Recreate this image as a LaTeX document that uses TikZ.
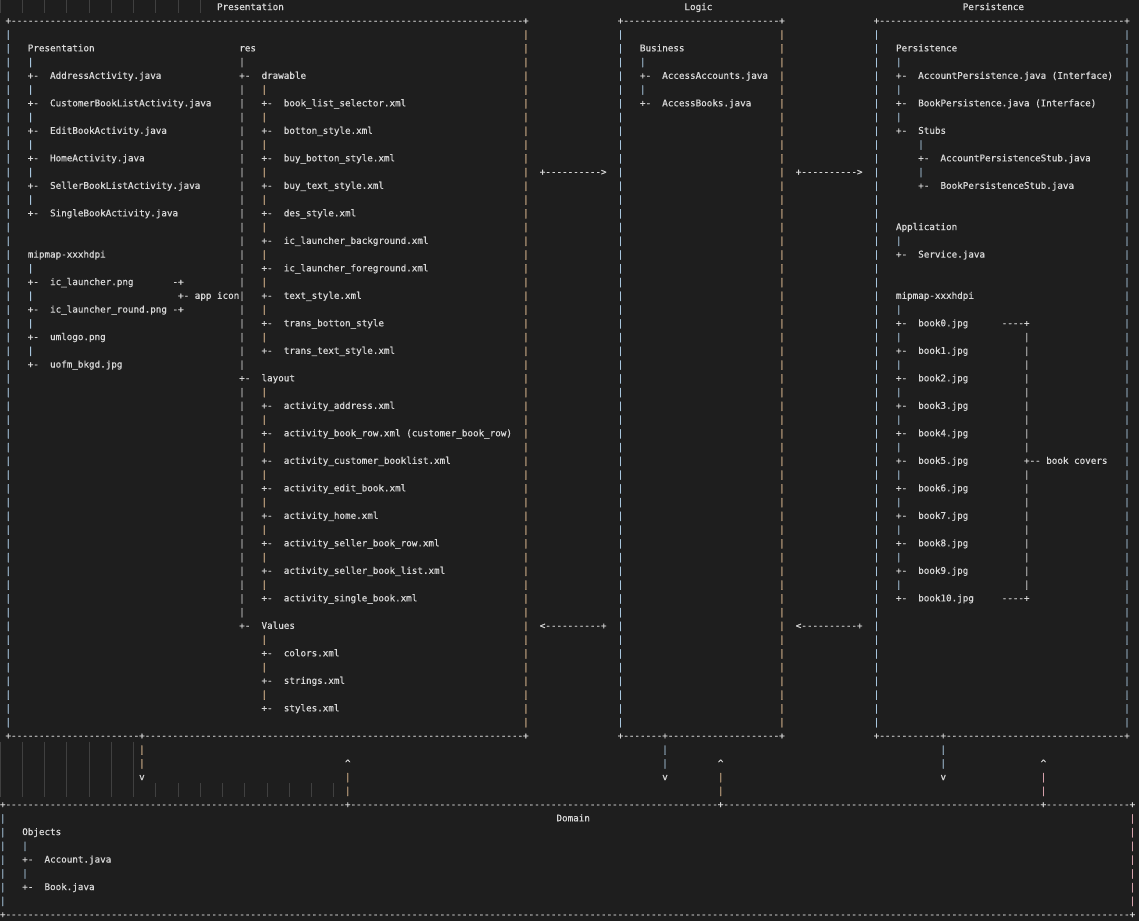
\documentclass[tikz,border=0pt]{standalone}
\usepackage{fontspec}
\setmonofont{DejaVu Sans Mono}[FakeBold=0.6]

\definecolor{bgc}{HTML}{1E1E1E}
\definecolor{fgc}{HTML}{D8D8D8}
\definecolor{guidec}{HTML}{404040}
\definecolor{barblue}{HTML}{A8C6DE}
\definecolor{barorange}{HTML}{D6B48C}
\definecolor{barpink}{HTML}{D4A0AA}
\definecolor{bargray}{HTML}{C8C8C8}

\newcommand\dashrun[1]{\foreach\k in {1,...,#1}{-}}

\tikzset{
  txt/.style={anchor=base west, inner sep=0pt, outer sep=0pt, text=fgc,
    font=\ttfamily\fontsize{9.2434pt}{13.75pt}\selectfont},
  vbar/.style={txt, text=#1},
  vbar/.default=bargray,
  guide/.style={draw=guidec, line width=0.9pt},
}

\begin{document}
\begin{tikzpicture}[x=5.565pt, y=-13.75pt, shift={(0,0.7309)}]
  \useasboundingbox (0,-0.7309) rectangle (204.67,66.25);
  \fill[bgc] (0,-0.7309) rectangle (204.67,66.25);

  % indent guides
  \foreach \c in {0,4,...,36} \draw[guide] (\c,-0.7945) -- (\c,0.2055);
  \foreach \c in {0,4,...,24} \draw[guide] (\c,53.2055) -- (\c,57.2055);
  \foreach \c in {28,32,...,60} \draw[guide] (\c,56.2055) -- (\c,57.2055);

  % layer titles
  \node[txt] (headPres) at (39,0) {Presentation};
  \node[txt] (headLogic) at (123,0) {Logic};
  \node[txt] (headPers) at (173,0) {Persistence};

  % layer frames
  \node[txt] (presTop) at (1,1) {+\dashrun{92}+};
  \node[txt] (presBot) at (1,53) {+\dashrun{23}+\dashrun{68}+};
  \node[txt] (logicTop) at (111,1) {+\dashrun{28}+};
  \node[txt] (logicBot) at (111,53) {+\dashrun{7}+\dashrun{20}+};
  \node[txt] (persTop) at (157,1) {+\dashrun{44}+};
  \node[txt] (persBot) at (157,53) {+\dashrun{11}+\dashrun{32}+};
  \foreach \r in {2,...,52} {
    \node[vbar=barblue] (presL\r) at (1,\r) {|};
    \node[vbar=barorange] (presR\r) at (94,\r) {|};
    \node[vbar=barblue] (logicL\r) at (111,\r) {|};
    \node[vbar=barorange] (logicR\r) at (140,\r) {|};
    \node[vbar=barblue] (persL\r) at (157,\r) {|};
    \node[vbar=barblue] (persR\r) at (202,\r) {|};
  }
  \node[txt] (domTop) at (0,58) {+\dashrun{61}+\dashrun{66}+\dashrun{57}+\dashrun{15}+};
  \node[txt] (domBot) at (0,66) {+\dashrun{202}+};
  \foreach \r in {59,...,65} {
    \node[vbar=barblue] (domL\r) at (0,\r) {|};
    \node[vbar=barpink] (domR\r) at (203,\r) {|};
  }
  \node[txt] (headDom) at (100,59) {Domain};

  % calls between layers
  \node[txt] (presToLogic) at (97,12) {+\dashrun{10}>};
  \node[txt] (logicToPers) at (143,12) {+\dashrun{10}>};
  \node[txt] (logicToPres) at (97,45) {<\dashrun{10}+};
  \node[txt] (persToLogic) at (143,45) {<\dashrun{10}+};
  \foreach \d/\u/\dc/\uc in {25/62/barorange/barorange, 119/129/barblue/barorange, 169/187/barblue/barpink} {
    \node[vbar=\dc] (dn\d-a) at (\d,54) {|};
    \node[vbar=\dc] (dn\d-b) at (\d,55) {|};
    \node[txt] (dn\d-v) at (\d,56) {v};
    \node[txt] (up\u-a) at (\u,55) {\textasciicircum};
    \node[vbar=\uc] (up\u-b) at (\u,56) {|};
    \node[vbar=\uc] (up\u-c) at (\u,57) {|};
  }

  % presentation: activities
  \node[txt] (presPkg) at (5,3) {Presentation};
  \foreach \r in {4,6,...,14} \node[vbar=barblue] (presV\r) at (5,\r) {|};
  \foreach \r/\f in {5/AddressActivity.java, 7/CustomerBookListActivity.java,
      9/EditBookActivity.java, 11/HomeActivity.java,
      13/SellerBookListActivity.java, 15/SingleBookActivity.java}
    \node[txt] (act\r) at (5,\r) {+-\ \ \f};

  % presentation: mipmap
  \node[txt] (mipPres) at (5,18) {mipmap-xxxhdpi};
  \foreach \r in {19,21,23,25} \node[vbar=barblue] (mipV\r) at (5,\r) {|};
  \foreach \r/\f in {20/ic\_launcher.png, 22/ic\_launcher\_round.png,
      24/umlogo.png, 26/uofm\_bkgd.jpg}
    \node[txt] (img\r) at (5,\r) {+-\ \ \f};
  \node[txt] (iconTop) at (31,20) {-+};
  \node[txt] (iconBot) at (31,22) {-+};
  \node[txt] (iconLbl) at (32,21) {+- app icon};

  % presentation: res
  \node[txt] (resDir) at (43,3) {res};
  \node[vbar] (resV4) at (43,4) {|};
  \foreach \r in {6,...,26} \node[vbar] (resV\r) at (43,\r) {|};
  \foreach \r in {28,...,44} \node[vbar] (resV\r) at (43,\r) {|};
  \foreach \r/\f in {5/drawable, 27/layout, 45/Values}
    \node[txt] (resSub\r) at (43,\r) {+-\ \ \f};
  \foreach \r in {6,8,...,24} \node[vbar=barorange] (drwV\r) at (47,\r) {|};
  \foreach \r in {28,30,...,42} \node[vbar=barorange] (layV\r) at (47,\r) {|};
  \foreach \r in {46,48,50} \node[vbar=barorange] (valV\r) at (47,\r) {|};
  \foreach \r/\f in {7/book\_list\_selector.xml, 9/botton\_style.xml,
      11/buy\_botton\_style.xml, 13/buy\_text\_style.xml, 15/des\_style.xml,
      17/ic\_launcher\_background.xml, 19/ic\_launcher\_foreground.xml,
      21/text\_style.xml, 23/trans\_botton\_style, 25/trans\_text\_style.xml}
    \node[txt] (drw\r) at (47,\r) {+-\ \ \f};
  \foreach \r/\f in {29/activity\_address.xml,
      31/activity\_book\_row.xml (customer\_book\_row),
      33/activity\_customer\_booklist.xml, 35/activity\_edit\_book.xml,
      37/activity\_home.xml, 39/activity\_seller\_book\_row.xml,
      41/activity\_seller\_book\_list.xml, 43/activity\_single\_book.xml}
    \node[txt] (lay\r) at (47,\r) {+-\ \ \f};
  \foreach \r/\f in {47/colors.xml, 49/strings.xml, 51/styles.xml}
    \node[txt] (val\r) at (47,\r) {+-\ \ \f};

  % logic
  \node[txt] (bizPkg) at (115,3) {Business};
  \foreach \r in {4,6} \node[vbar=barblue] (bizV\r) at (115,\r) {|};
  \foreach \r/\f in {5/AccessAccounts.java, 7/AccessBooks.java}
    \node[txt] (biz\r) at (115,\r) {+-\ \ \f};

  % persistence
  \node[txt] (perPkg) at (161,3) {Persistence};
  \foreach \r in {4,6,8} \node[vbar=barblue] (perV\r) at (161,\r) {|};
  \foreach \r/\f in {5/AccountPersistence.java (Interface),
      7/BookPersistence.java (Interface), 9/Stubs}
    \node[txt] (per\r) at (161,\r) {+-\ \ \f};
  \foreach \r in {10,12} \node[vbar=barblue] (stubV\r) at (165,\r) {|};
  \foreach \r/\f in {11/AccountPersistenceStub.java, 13/BookPersistenceStub.java}
    \node[txt] (stub\r) at (165,\r) {+-\ \ \f};
  \node[txt] (appPkg) at (161,16) {Application};
  \node[vbar=barblue] (appV17) at (161,17) {|};
  \node[txt] (app18) at (161,18) {+-\ \ Service.java};
  \node[txt] (mipPers) at (161,21) {mipmap-xxxhdpi};
  \foreach \r in {22,24,...,42} \node[vbar=barblue] (bookV\r) at (161,\r) {|};
  \foreach \r [count=\i from 0] in {23,25,...,43}
    \node[txt] (book\i) at (161,\r) {+-\ \ book\i.jpg};
  \node[txt] (coverTop) at (180,23) {\dashrun{4}+};
  \node[txt] (coverBot) at (180,43) {\dashrun{4}+};
  \foreach \r in {24,...,32} \node[vbar] (coverV\r) at (184,\r) {|};
  \foreach \r in {34,...,42} \node[vbar] (coverV\r) at (184,\r) {|};
  \node[txt] (coverLbl) at (184,33) {+-{}- book covers};

  % domain
  \node[txt] (objPkg) at (4,60) {Objects};
  \foreach \r in {61,63} \node[vbar=barblue] (objV\r) at (4,\r) {|};
  \foreach \r/\f in {62/Account.java, 64/Book.java}
    \node[txt] (obj\r) at (4,\r) {+-\ \ \f};
\end{tikzpicture}
\end{document}
